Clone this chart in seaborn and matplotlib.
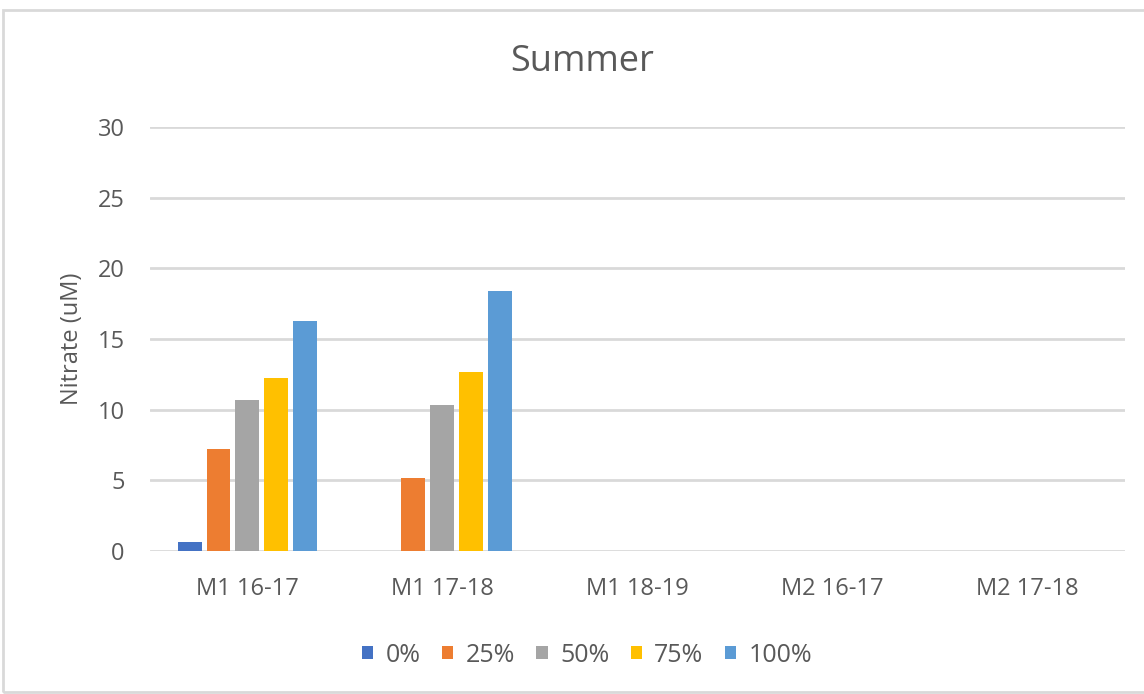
import numpy as np
import pandas as pd
import seaborn as sns
import matplotlib.pyplot as plt
from matplotlib.patches import Rectangle

categories = ["M1 16-17", "M1 17-18", "M1 18-19", "M2 16-17", "M2 17-18"]
series = ["0%", "25%", "50%", "75%", "100%"]
nitrate = {
    "0%":   [0.64, np.nan, np.nan, np.nan, np.nan],
    "25%":  [7.24, 5.19, np.nan, np.nan, np.nan],
    "50%":  [10.72, 10.3, np.nan, np.nan, np.nan],
    "75%":  [12.25, 12.68, np.nan, np.nan, np.nan],
    "100%": [16.25, 18.42, np.nan, np.nan, np.nan],
}
colors = ["#4472C4", "#ED7D31", "#A5A5A5", "#FFC000", "#5B9BD5"]

rows = []
for s in series:
    for c, v in zip(categories, nitrate[s]):
        rows.append({"site": c, "level": s, "nitrate": v})
df = pd.DataFrame(rows)

sns.set_style("white")
plt.rcParams['font.family'] = ['Open Sans', 'DejaVu Sans']
text_col = "#595959"

fig = plt.figure(figsize=(11.44, 6.94), dpi=100)
ax = fig.add_axes([0.131, 0.206, 0.852, 0.611])

sns.barplot(data=df, x="site", y="nitrate", hue="level", order=categories,
            hue_order=series, palette=colors, width=0.74, gap=0.17,
            linewidth=0, saturation=1, ax=ax, legend=True)

ax.set_ylim(0, 30)
ax.set_xlim(-0.5, len(categories) - 0.5)
ax.set_yticks(range(0, 31, 5))
ax.yaxis.grid(True, color="#D9D9D9", linewidth=2)
ax.set_axisbelow(True)
for sp in ax.spines.values():
    sp.set_visible(False)
ax.tick_params(axis="both", length=0, labelsize=17, colors=text_col)
ax.tick_params(axis="y", pad=18)
ax.tick_params(axis="x", pad=19)
ax.set_xlabel("")
ax.set_ylabel("Nitrate (uM)", fontsize=17, color=text_col, labelpad=10)

fig.text(582 / 1144, 1 - 62 / 694, "Summer", fontsize=26, color=text_col,
         ha="center", va="center")

handles, labels = ax.get_legend_handles_labels()
ax.legend_.remove()
fig.legend(handles, labels, loc="center", bbox_to_anchor=(587 / 1144, 1 - 655 / 694),
           ncol=5, frameon=False, fontsize=18, handlelength=0.45, handleheight=0.45,
           handletextpad=0.5, columnspacing=0.85, labelcolor=text_col)

fig.patches.append(Rectangle((3 / 1144, 0.003), 1.2, 1 - 10 / 694 - 0.003,
                             transform=fig.transFigure, fill=False,
                             edgecolor="#D9D9D9", linewidth=2))

fig.savefig("out.png", dpi=100)
